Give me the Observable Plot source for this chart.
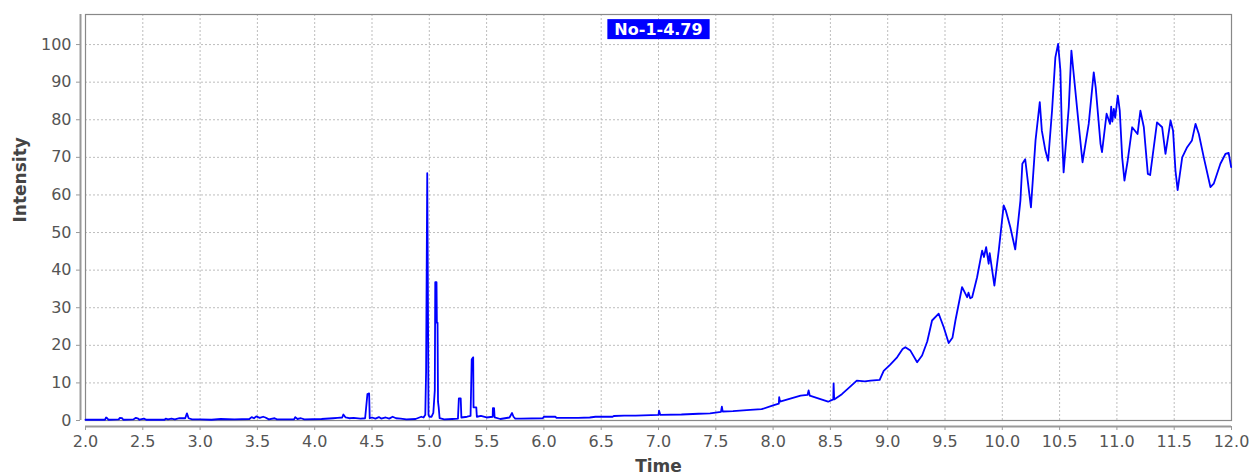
<!DOCTYPE html>
<html><head><meta charset="utf-8">
<script src="https://cdn.jsdelivr.net/npm/d3@7"></script>
<script src="https://cdn.jsdelivr.net/npm/@observablehq/plot@0.6"></script>
<style>body{margin:0;background:#fff}</style>
</head><body><div id="chart"></div>
<script>
const title = "No-1-4.79";
const xLabel = "Time";
const yLabel = "Intensity";
const xTicks = [2.0,2.5,3.0,3.5,4.0,4.5,5.0,5.5,6.0,6.5,7.0,7.5,8.0,8.5,9.0,9.5,10.0,10.5,11.0,11.5,12.0];
const yTicks = [0,10,20,30,40,50,60,70,80,90,100];

const times = [
2.00,2.17,2.18,2.19,2.20,2.29,2.30,2.32,2.33,2.42,2.44,2.46,2.47,2.51,2.53,2.69,2.70,2.72,2.75,2.78,2.82,2.87,2.885,2.90,2.93,
3.00,3.10,3.18,3.30,3.43,3.45,3.47,3.49,3.52,3.55,3.57,3.60,3.65,3.67,3.82,3.83,3.85,3.88,3.91,
4.06,4.16,4.20,4.24,4.25,4.27,4.30,4.34,4.40,4.44,4.46,4.475,4.48,4.50,4.53,4.56,4.58,4.62,4.65,4.68,4.71,4.75,4.80,4.88,4.93,4.95,4.965,4.972,4.982,4.987,4.993,
5.00,5.02,5.035,5.048,5.052,5.063,5.066,5.072,5.076,5.082,5.09,5.13,5.20,5.25,5.258,5.274,5.28,5.33,5.36,5.37,5.383,5.386,5.41,5.415,5.45,5.50,5.553,5.555,5.565,5.57,5.62,5.70,5.722,5.735,5.75,5.80,5.99,
6.00,6.10,6.11,6.30,6.40,6.45,6.60,6.61,6.70,6.80,
7.00,7.005,7.015,7.20,7.35,7.45,7.545,7.553,7.56,7.65,7.80,7.90,
8.00,8.05,8.053,8.06,8.15,8.24,8.30,8.31,8.32,8.40,8.48,8.525,8.528,8.533,8.60,8.68,8.73,8.80,8.85,8.93,8.965,
9.02,9.082,9.13,9.154,9.198,9.257,9.30,9.345,9.387,9.445,9.489,9.532,9.565,9.591,9.649,9.693,9.705,9.72,9.737,9.78,9.824,9.84,9.859,9.881,9.89,9.931,9.969,
10.012,10.03,10.07,10.113,10.158,10.175,10.20,10.225,10.25,10.29,10.327,10.345,10.376,10.40,10.434,10.463,10.487,10.507,10.52,10.535,10.58,10.603,10.62,10.666,10.70,10.754,10.798,10.815,10.857,10.87,10.91,10.94,10.95,10.96,10.973,10.985,
11.008,11.025,11.046,11.066,11.094,11.133,11.18,11.205,11.235,11.27,11.29,11.35,11.395,11.424,11.468,11.49,11.511,11.53,11.57,11.613,11.655,11.686,11.715,11.758,11.816,11.845,11.903,11.947,11.975,11.997
];
const intensity = [
0.2,0.2,0.8,0.6,0.2,0.3,0.7,0.6,0.2,0.3,0.7,0.5,0.2,0.5,0.2,0.2,0.5,0.3,0.5,0.3,0.6,0.6,1.9,0.6,0.3,
0.3,0.2,0.4,0.3,0.4,0.9,0.6,1.1,0.7,1.0,0.8,0.3,0.6,0.3,0.3,0.9,0.4,0.6,0.3,
0.4,0.6,0.7,0.8,1.6,0.8,0.6,0.7,0.5,0.6,7.0,7.2,0.6,0.8,0.5,0.9,0.5,0.8,0.5,1.0,0.6,0.5,0.3,0.4,1.0,0.8,1.5,13,65.8,38.5,1.5,
1.0,1.0,2.0,8,36.8,36.8,26,26,5,3.5,0.6,0.3,0.4,0.5,5.9,5.9,0.8,1.0,1.2,16.2,16.8,3.5,3.5,1.0,1.2,0.8,1.0,3.3,3.3,0.8,0.4,0.8,2.0,1.0,0.5,0.5,0.6,
1.0,1.0,0.7,0.7,0.8,1.0,1.0,1.2,1.3,1.3,
1.5,2.6,1.5,1.6,1.8,1.9,2.3,3.7,2.4,2.5,2.8,3.0,
4.0,4.5,6.2,5.0,5.8,6.6,6.8,8.0,6.6,5.8,5.0,5.6,9.9,5.6,7.0,9.2,10.6,10.4,10.6,10.8,13.2,
14.8,16.8,19.0,19.5,18.6,15.5,17.3,21,26.6,28.4,24.8,20.6,22,26.6,35.5,32.8,34.0,32.5,32.8,38.1,45.2,43.5,46.1,41.7,44.5,35.9,45.2,
57.2,55.9,51.4,45.5,58.5,68.3,69.5,63,56.7,74.5,84.7,77.1,71.8,69.1,82.4,96.6,100.2,93.1,77.1,66,83.3,98.4,93.1,78.9,68.7,78.9,92.6,88.6,73.6,71.4,81.6,78.9,83.5,79.5,82.9,80.5,
86.4,82.4,70.0,63.8,69.1,78.0,76.2,82.4,78,65.6,65.3,79.3,78.0,70.9,79.8,77.1,66.5,61.3,70.0,72.7,74.5,78.9,76.2,70.0,62.1,63,68.3,70.9,71.2,67.4
];

const data = times.map((t, i) => ({time: t, intensity: intensity[i]}));
const gridStyle = {stroke: "#bdbdbd", strokeOpacity: 1, strokeDasharray: "2,2", strokeWidth: 1};

const plot = Plot.plot({
  width: 1250, height: 475,
  marginLeft: 85, marginRight: 19, marginTop: 14, marginBottom: 55,
  style: {fontFamily: "'DejaVu Sans', sans-serif", fontSize: "16px", background: "#fff", color: "#555"},
  x: {domain: [2, 12]},
  y: {domain: [0, 108]},
  marks: [
    Plot.gridX(xTicks, gridStyle),
    Plot.gridY(yTicks, gridStyle),
    Plot.frame({stroke: "#888", strokeWidth: 1.2}),
    Plot.ruleY([0], {dy: 6, stroke: "#999", strokeWidth: 2}),
    Plot.ruleX([2], {dx: -5, stroke: "#999", strokeWidth: 2}),
    Plot.axisX(xTicks, {tickFormat: d => d.toFixed(1), tickSize: 4, tickPadding: 5, dy: 6, label: null, stroke: "#999", fill: "#555", fontSize: 16}),
    Plot.axisY(yTicks, {tickSize: 4, tickPadding: 5, dx: -5, label: null, stroke: "#999", fill: "#555", fontSize: 16}),
    Plot.line(data, {x: "time", y: "intensity", stroke: "#0000ff", strokeWidth: 1.8}),
    Plot.text([title], {frameAnchor: "top", dy: 15, fill: "white", fontWeight: "bold", fontSize: 16, lineAnchor: "middle"}),
    Plot.text([xLabel], {frameAnchor: "bottom", dy: 46, fill: "#444", fontWeight: "bold", fontSize: 17, lineAnchor: "middle"}),
    Plot.text([yLabel], {frameAnchor: "left", dx: -65, dy: 5, rotate: -90, fill: "#444", fontWeight: "bold", fontSize: 17, lineAnchor: "middle"})
  ]
});
document.getElementById("chart").appendChild(plot);

// blue box behind the title label
const svgRect = plot.getBoundingClientRect();
d3.select(plot).selectAll("text").filter(function() { return this.textContent === title; }).each(function() {
  const b = this.getBoundingClientRect();
  const g = this.parentNode;
  const cy = b.y - svgRect.y + b.height / 2;
  d3.select(g.parentNode).insert("rect", function() { return g; })
    .attr("x", b.x - svgRect.x - 7)
    .attr("y", cy - 10)
    .attr("width", b.width + 14)
    .attr("height", 20)
    .attr("fill", "#0000ff");
});
</script>
</body></html>
